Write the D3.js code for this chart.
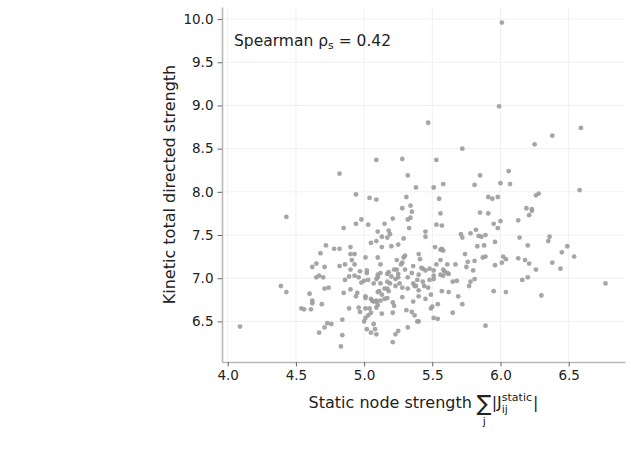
<!DOCTYPE html>
<html>
<head>
<meta charset="utf-8">
<script src="https://cdn.jsdelivr.net/npm/d3@7"></script>
<style>
  body { margin: 0; background: #fff; }
  text { font-family: "DejaVu Sans", sans-serif; fill: #222; }
</style>
</head>
<body>
<div id="holder"></div>
<script>
// static node strength (x) for each node
var staticStrength = [
  6.01, 5.99, 5.47, 6.59, 6.38,
  4.82, 4.94, 4.43, 4.85,
  5.72, 5.09, 5.28, 5.53, 5.32, 5.85, 5.38, 5.51, 5.58, 5.81, 5.04, 5.09, 5.31, 5.55, 5.91,
  5.28, 5.34, 5.35, 5.56, 5.85, 5.91, 5.32, 5.34, 5.21, 4.98, 4.94, 5.03, 5.15, 5.33, 5.53,
  5.57, 5.45, 5.45, 5.10, 5.18, 5.19, 5.17, 5.13, 5.09, 5.05, 5.13, 5.20, 5.25, 5.29, 5.52,
  5.57, 5.71, 5.72, 5.78, 5.82, 5.84, 5.86, 5.89, 5.83, 5.88,
  6.25, 6.06, 6.00, 6.07, 6.58, 6.26, 6.28, 5.94, 5.98, 6.19, 6.23, 6.23, 6.21, 6.13, 6.00,
  5.95, 5.98, 5.96, 6.14, 6.36, 6.35, 6.20, 6.49,
  4.72, 4.68, 4.78, 4.82, 4.90, 4.90, 4.93, 4.91, 4.65, 4.62, 4.71, 4.82, 4.86, 4.93, 4.90,
  4.65, 4.67, 4.70, 4.86, 4.89, 4.39, 4.43, 4.60, 4.71, 4.74, 4.85, 4.90, 4.62, 4.62, 4.69,
  4.54, 4.56, 4.61, 4.89, 4.84, 4.73, 4.76, 4.71, 4.67, 4.84, 4.83, 4.09,
  5.01, 5.10, 5.12, 4.97, 5.02, 5.02, 4.93, 4.96, 4.98, 5.00, 5.03, 5.07, 5.09, 5.10, 5.12,
  5.10, 5.12, 5.17, 5.18, 5.17, 4.95, 4.94, 5.01, 5.05, 5.07, 5.09, 5.10, 5.11, 5.13, 5.15,
  5.18, 5.17, 5.01, 5.06, 5.09, 5.12, 5.15, 5.17, 5.13, 5.09, 5.10, 5.04, 5.05, 5.01, 4.96,
  4.97, 5.01, 5.03, 5.00, 5.02, 5.07, 5.05, 5.09, 5.08,
  6.45, 6.54, 6.38, 6.44, 6.26, 6.21, 6.18, 6.13, 6.04, 6.01, 5.96, 6.02, 5.89, 5.87, 5.81,
  5.80, 5.75, 5.76, 5.74, 6.16, 6.20, 6.77, 6.30, 5.95, 6.04, 5.89, 5.81, 5.78, 5.77, 5.69,
  5.72, 5.65, 5.65, 5.68, 5.62, 5.62, 5.57, 5.51, 5.54, 5.54, 5.50, 5.49, 5.49, 5.45, 5.40,
  5.36, 5.37, 5.39, 5.40, 5.32, 5.25, 5.23, 5.21, 5.21, 5.21, 5.22, 5.28, 5.31, 5.35, 5.32,
  5.38, 5.40, 5.44, 5.47, 5.48, 5.51, 5.51, 5.56, 5.58, 5.59, 5.58, 5.61, 5.61, 5.45, 5.48,
  5.51, 5.43, 5.42, 5.40, 5.43, 5.39, 5.36, 5.37, 5.35, 5.32, 5.30, 5.28, 5.24, 5.22, 5.25,
  5.25, 5.23, 5.26, 5.20, 5.19, 5.23, 5.28, 5.40, 5.41, 5.29, 5.30, 5.24, 5.56, 5.58, 5.56,
  5.53, 5.67, 5.36, 5.27
];

// kinetic total directed strength (y) for the same nodes
var kineticStrength = [
  9.96, 8.99, 8.80, 8.74, 8.65,
  8.21, 7.97, 7.71, 7.58,
  8.50, 8.37, 8.38, 8.37, 8.19, 8.19, 8.05, 8.05, 8.09, 8.08, 7.93, 7.91, 7.94, 7.92, 7.94,
  7.81, 7.84, 7.77, 7.75, 7.76, 7.75, 7.68, 7.70, 7.69, 7.68, 7.63, 7.62, 7.63, 7.58, 7.62,
  7.61, 7.54, 7.48, 7.54, 7.55, 7.51, 7.47, 7.48, 7.43, 7.41, 7.36, 7.37, 7.39, 7.46, 7.36,
  7.34, 7.51, 7.47, 7.52, 7.56, 7.49, 7.48, 7.50, 7.37, 7.38,
  8.55, 8.24, 8.10, 8.09, 8.02, 7.96, 7.98, 7.92, 7.94, 7.81, 7.80, 7.78, 7.73, 7.67, 7.66,
  7.63, 7.58, 7.42, 7.47, 7.48, 7.43, 7.38, 7.37,
  7.38, 7.29, 7.34, 7.34, 7.36, 7.28, 7.28, 7.21, 7.17, 7.13, 7.13, 7.14, 7.16, 7.16, 7.10,
  7.01, 7.03, 7.01, 6.98, 7.02, 6.91, 6.84, 6.82, 6.88, 6.89, 6.83, 6.87, 6.74, 6.71, 6.70,
  6.65, 6.64, 6.64, 6.65, 6.52, 6.48, 6.47, 6.43, 6.37, 6.34, 6.21, 6.44,
  7.24, 7.24, 7.16, 7.08, 7.09, 7.06, 7.03, 7.01, 6.95, 6.97, 6.98, 6.94, 6.99, 7.01, 6.94,
  7.04, 7.06, 7.05, 7.07, 6.96, 6.83, 6.79, 6.77, 6.76, 6.73, 6.74, 6.84, 6.85, 6.81, 6.88,
  6.85, 6.88, 6.79, 6.74, 6.73, 6.74, 6.76, 6.77, 6.59, 6.66, 6.69, 6.65, 6.60, 6.65, 6.66,
  6.61, 6.54, 6.57, 6.50, 6.41, 6.47, 6.37, 6.35, 6.41,
  7.30, 7.25, 7.18, 7.11, 7.10, 7.17, 7.21, 7.23, 7.22, 7.18, 7.15, 7.25, 7.25, 7.24, 7.20,
  7.09, 7.13, 7.19, 7.28, 6.98, 7.01, 6.94, 6.80, 6.85, 6.84, 6.45, 6.99, 6.96, 6.91, 6.79,
  6.70, 6.60, 6.96, 6.97, 6.84, 7.05, 6.85, 6.54, 6.53, 6.70, 6.67, 6.65, 6.81, 6.76, 6.79,
  6.73, 6.57, 6.50, 6.50, 6.43, 6.39, 6.35, 6.26, 6.60, 6.72, 6.68, 6.78, 6.63, 6.61, 6.88,
  6.91, 6.86, 6.91, 6.89, 6.98, 6.99, 7.03, 7.04, 7.03, 7.08, 7.10, 7.16, 7.06, 7.09, 7.11,
  7.09, 7.11, 7.12, 7.04, 6.96, 6.98, 6.94, 6.91, 7.06, 7.01, 7.10, 7.18, 7.10, 7.10, 7.05,
  7.01, 6.99, 6.94, 7.02, 6.94, 6.91, 6.89, 7.28, 7.22, 7.24, 7.26, 7.21, 7.33, 7.32, 7.21,
  7.16, 7.16, 7.14, 7.16
];

var xTicks = [4.0, 4.5, 5.0, 5.5, 6.0, 6.5];
var yTicks = [6.5, 7.0, 7.5, 8.0, 8.5, 9.0, 9.5, 10.0];
var spearmanRho = 0.42;

var fullWidth = 631, fullHeight = 449;
var margin = {top: 7, right: 6, bottom: 87, left: 222};
var width = fullWidth - margin.left - margin.right;
var height = fullHeight - margin.top - margin.bottom;

var svg = d3.select('#holder').append('svg')
  .attr('width', fullWidth)
  .attr('height', fullHeight)
  .append('g')
    .attr('transform', 'translate(' + margin.left + ',' + margin.top + ')');

var xScale = d3.scaleLinear().domain([3.958, 6.913]).range([0, width]);
var yScale = d3.scaleLinear().domain([6.03, 10.14]).range([height, 0]);

// faint grid
svg.append('g').selectAll('line.vg')
  .data(xTicks).enter().append('line')
  .attr('x1', function(d) { return xScale(d); })
  .attr('x2', function(d) { return xScale(d); })
  .attr('y1', 0).attr('y2', height)
  .attr('stroke', '#f0f0f0').attr('stroke-width', 1);
svg.append('g').selectAll('line.hg')
  .data(yTicks).enter().append('line')
  .attr('y1', function(d) { return yScale(d); })
  .attr('y2', function(d) { return yScale(d); })
  .attr('x1', 0).attr('x2', width)
  .attr('stroke', '#f0f0f0').attr('stroke-width', 1);

// points
var pts = staticStrength.map(function(x, i) { return {x: x, y: kineticStrength[i]}; });
svg.append('g').selectAll('circle')
  .data(pts).enter().append('circle')
  .attr('cx', function(d) { return xScale(d.x); })
  .attr('cy', function(d) { return yScale(d.y); })
  .attr('r', 2.4)
  .attr('fill', '#9c9c9c')
  .attr('fill-opacity', 0.9);

// axes
var xAxis = svg.append('g')
  .attr('transform', 'translate(0,' + height + ')')
  .call(d3.axisBottom(xScale).tickValues(xTicks).tickFormat(d3.format('.1f'))
    .tickSize(4.5).tickSizeOuter(0).tickPadding(4));
var yAxis = svg.append('g')
  .call(d3.axisLeft(yScale).tickValues(yTicks).tickFormat(d3.format('.1f'))
    .tickSize(4.5).tickSizeOuter(0).tickPadding(4));

[xAxis, yAxis].forEach(function(a) {
  a.select('.domain').attr('stroke', '#b8b8b8').attr('stroke-width', 1.6);
  a.selectAll('.tick line').attr('stroke', '#666');
  a.selectAll('.tick text')
    .style('font-family', '"DejaVu Sans", sans-serif')
    .style('font-size', '13.5px')
    .attr('fill', '#222');
});

// y label
svg.append('text')
  .attr('transform', 'translate(' + (-47) + ',' + (height / 2) + ') rotate(-90)')
  .attr('text-anchor', 'middle')
  .style('font-size', '16px')
  .text('Kinetic total directed strength');

// x label: Static node strength  sum_j |J_ij^static|
var lab = svg.append('g');
var cursor = 0;
function piece(str, size, dy) {
  var t = lab.append('text')
    .attr('x', cursor).attr('y', dy)
    .style('font-size', size + 'px')
    .text(str);
  return t;
}
var baseY = height + 46;
var t1 = piece('Static node strength', 16, 0);
cursor += t1.node().getComputedTextLength() + 5;
var sumT = piece('\u2211', 22, 3);
var sumW = sumT.node().getComputedTextLength();
piece('j', 11, 17).attr('x', cursor + sumW / 2).attr('text-anchor', 'middle');
cursor += sumW;
var t3 = piece('|J', 16, 0);
cursor += t3.node().getComputedTextLength();
var sub = piece('ij', 11, 5);
var sup = piece('static', 11, -7);
cursor += Math.max(sub.node().getComputedTextLength(), sup.node().getComputedTextLength()) + 1;
var t6 = piece('|', 16, 0);
cursor += t6.node().getComputedTextLength();
lab.attr('transform', 'translate(' + (width / 2 - cursor / 2) + ',' + baseY + ')');

// annotation
var ann = svg.append('text')
  .attr('x', 12).attr('y', 39)
  .style('font-size', '15.5px');
ann.append('tspan').text('Spearman \u03c1');
ann.append('tspan').attr('dy', 3).style('font-size', '11px').text('s');
ann.append('tspan').attr('dy', -3).text(' = ' + spearmanRho.toFixed(2));
</script>
</body>
</html>
